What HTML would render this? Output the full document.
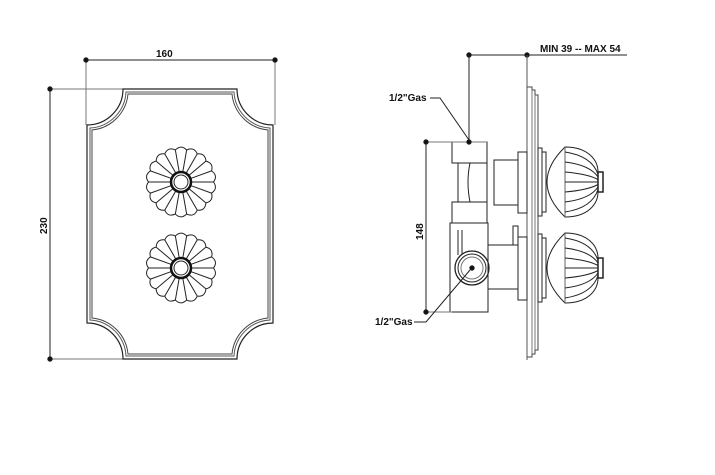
<!DOCTYPE html>
<html><head><meta charset="utf-8"><style>
html,body{margin:0;padding:0;background:#fff;}
svg{display:block;}
text{font-family:"Liberation Sans",sans-serif;font-weight:bold;font-size:10px;fill:#111;}
</style></head><body>
<svg width="715" height="475" viewBox="0 0 715 475" xmlns="http://www.w3.org/2000/svg">
<defs>
<g id="pet"><line x1="10" y1="0" x2="32.5" y2="0"/><path d="M32.5,0 Q37.2,6.6 30.6,11.1"/></g>
<g id="ros">
<use href="#pet"/><use href="#pet" transform="rotate(20)"/><use href="#pet" transform="rotate(40)"/>
<use href="#pet" transform="rotate(60)"/><use href="#pet" transform="rotate(80)"/><use href="#pet" transform="rotate(100)"/>
<use href="#pet" transform="rotate(120)"/><use href="#pet" transform="rotate(140)"/><use href="#pet" transform="rotate(160)"/>
<use href="#pet" transform="rotate(180)"/><use href="#pet" transform="rotate(200)"/><use href="#pet" transform="rotate(220)"/>
<use href="#pet" transform="rotate(240)"/><use href="#pet" transform="rotate(260)"/><use href="#pet" transform="rotate(280)"/>
<use href="#pet" transform="rotate(300)"/><use href="#pet" transform="rotate(320)"/><use href="#pet" transform="rotate(340)"/>
<circle r="10" stroke-width="2.5" stroke="#111"/><circle r="7"/>
</g>
<g id="knob">
<rect x="538" y="-34" width="4" height="68"/>
<rect x="542" y="-30" width="4" height="60"/>
<path d="M565,-35 Q529,0 565,35 C588,35 598,22 598,10 L598,-10 C598,-22 588,-35 565,-35 Z"/>
<line x1="565" y1="-35" x2="565" y2="35" stroke="#666"/>
<rect x="598" y="-10" width="5" height="20" stroke-width="1.5"/>
<path d="M565,-30 Q592,-26 598,-7.5 M565,-20 Q590,-17 598,-5 M565,-10 Q588,-8 598,-2.5 M565,0 L598,0 M565,10 Q588,8 598,2.5 M565,20 Q590,17 598,5 M565,30 Q592,26 598,7.5"/>
</g>
</defs>
<g fill="none" stroke="#222" stroke-width="1">
<line x1="86" y1="60" x2="275" y2="60"/>
<line x1="86" y1="60" x2="86" y2="125" stroke="#777"/>
<line x1="275" y1="60" x2="275" y2="125" stroke="#777"/>
<circle cx="86" cy="60" r="2.2" fill="#111"/><circle cx="275" cy="60" r="2.2" fill="#111"/>
<line x1="50" y1="89" x2="50" y2="359"/>
<line x1="50" y1="89" x2="123" y2="89" stroke="#777"/>
<line x1="50" y1="359" x2="123" y2="359" stroke="#777"/>
<circle cx="50" cy="89" r="2.2" fill="#111"/><circle cx="50" cy="359" r="2.2" fill="#111"/>
<path d="M123,89 L237,89 A36,36 0 0 0 273,125 L273,323 A36,36 0 0 0 237,359 L123,359 A36,36 0 0 0 87,323 L87,125 A36,36 0 0 0 123,89 Z" stroke-width="1.2"/>
<path d="M126,92 L234,92 A38,38 0 0 0 270,128 L270,320 A38,38 0 0 0 234,356 L126,356 A38,38 0 0 0 90,320 L90,128 A38,38 0 0 0 126,92 Z" stroke="#555"/>
<path d="M128,94 L232,94 A40,40 0 0 0 268,130 L268,318 A40,40 0 0 0 232,354 L128,354 A40,40 0 0 0 92,318 L92,130 A40,40 0 0 0 128,94 Z" stroke="#444"/>
<use href="#ros" transform="translate(181,182)"/>
<use href="#ros" transform="translate(181,268)"/>
<line x1="469" y1="55" x2="627" y2="55"/>
<circle cx="469" cy="55" r="2.2" fill="#111"/><circle cx="527" cy="55" r="2.2" fill="#111"/>
<line x1="469" y1="55" x2="469" y2="142"/>
<line x1="527" y1="55" x2="527" y2="360" stroke="#555"/>
<path d="M527,87 L532,87 L532,90 L535,90 L535,95 L538,95 L538,350 L535,350 L535,354 L532,354 L532,357 L527,357" stroke="#444"/>
<line x1="532" y1="90" x2="532" y2="354" stroke="#777"/>
<line x1="535" y1="95" x2="535" y2="350" stroke="#777"/>
<rect x="452" y="142" width="35" height="21"/>
<rect x="458" y="163" width="29" height="39"/>
<path d="M470,163 Q466,182 470,202"/>
<rect x="452" y="202" width="35" height="21"/>
<rect x="494" y="160" width="24" height="45"/>
<rect x="518" y="152" width="9" height="61"/>
<rect x="450" y="223" width="38" height="89"/>
<rect x="488" y="245" width="30" height="44"/>
<rect x="518" y="237" width="9" height="63"/>
<rect x="513" y="226" width="5" height="19"/>
<line x1="458" y1="230" x2="458" y2="255"/><line x1="462" y1="230" x2="462" y2="255"/>
<circle cx="472" cy="268" r="17" stroke-width="1.3"/>
<circle cx="472" cy="268" r="14"/>
<circle cx="472" cy="268" r="11" stroke="#777"/>
<circle cx="472" cy="268" r="2.2" fill="#111"/>
<use href="#knob" transform="translate(0,182)"/>
<use href="#knob" transform="translate(0,268)"/>
<line x1="426" y1="142" x2="426" y2="312"/>
<line x1="426" y1="142" x2="487" y2="142" stroke="#777"/>
<line x1="426" y1="312" x2="452" y2="312" stroke="#777"/>
<circle cx="426" cy="142" r="2.2" fill="#111"/><circle cx="426" cy="312" r="2.2" fill="#111"/>
<circle cx="469" cy="142" r="2.2" fill="#111"/>
<polyline points="430,98 440,98 469,140"/>
<polyline points="414,322 426,322 470,270"/>
</g>
<text x="156" y="57">160</text>
<text transform="translate(47,234) rotate(-90)">230</text>
<text x="540" y="52">MIN 39 -- MAX 54</text>
<text transform="translate(423,240) rotate(-90)">148</text>
<text x="389" y="101">1/2"Gas</text>
<text x="375" y="325">1/2"Gas</text>
</svg>
</body></html>
